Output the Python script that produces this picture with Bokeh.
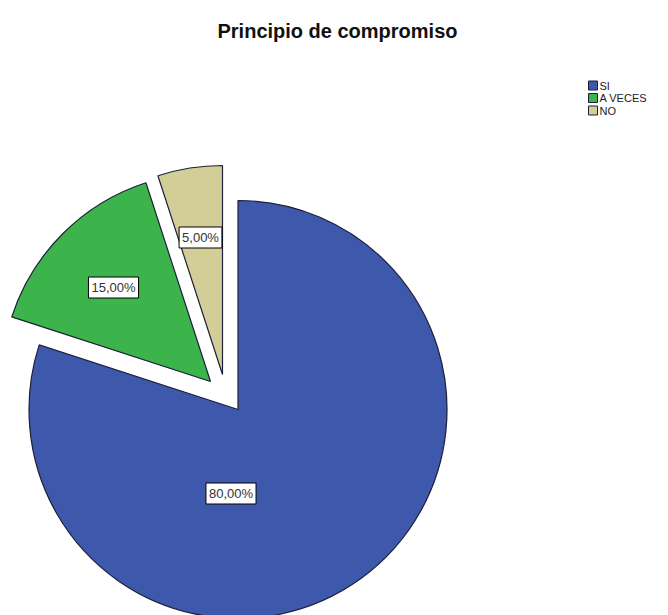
import numpy as np
from bokeh.plotting import figure
from bokeh.models import Range1d, Label, ColumnDataSource
from bokeh.embed import file_html
from bokeh.resources import INLINE

# ---- data ----
categories = ["SI", "A VECES", "NO"]
percentages = [80.0, 15.0, 5.0]
colors = ["#3E58AC", "#3CB44B", "#D3CE97"]
title_text = "Principio de compromiso"

# ---- layout (page pixel coordinates) ----
W, H = 668, 615
def Y(page_y):
    return H - page_y

center = (237.5, Y(409))
radius = 209
# explode offsets per slice (dx, dy up), and label offsets relative to slice apex
explode = [(0, 0), (-27.5, 28), (-15.5, 35)]
label_off = [(-7, -84), (-97, 94), (-22, 137)]

p = figure(width=W, height=H, x_range=Range1d(0, W), y_range=Range1d(0, H),
           output_backend="svg", toolbar_location=None, min_border=0)
p.axis.visible = False
p.grid.visible = False
p.outline_line_color = None
p.background_fill_color = "white"

frac = np.array(percentages) / sum(percentages)
cum = np.concatenate([[0], np.cumsum(frac)])
start = np.pi / 2 - cum[:-1] * 2 * np.pi
end = np.pi / 2 - cum[1:] * 2 * np.pi
xs = [center[0] + e[0] for e in explode]
ys = [center[1] + e[1] for e in explode]

src = ColumnDataSource(dict(x=xs, y=ys, start=start, end=end, color=colors, cat=categories))
p.wedge(x="x", y="y", radius=radius, radius_units="screen", start_angle="start", end_angle="end",
        direction="clock", fill_color="color", line_color="#1b1f3a", line_width=1.2, source=src)

for i, pct in enumerate(percentages):
    txt = f"{pct:.2f}%".replace(".", ",")
    p.add_layout(Label(x=xs[i] + label_off[i][0], y=ys[i] + label_off[i][1], text=txt,
                       text_align="center", text_baseline="middle", text_font_size="13px",
                       text_font="Liberation Sans", text_color="#333333",
                       background_fill_color="white", border_line_color="black",
                       border_line_width=1, padding=3))

# title
p.add_layout(Label(x=337, y=Y(30), text=title_text, text_align="center", text_baseline="middle",
                   text_font_size="20px", text_font_style="bold", text_font="Liberation Sans",
                   text_color="#111111"))

# legend
for i, cat in enumerate(categories):
    ly = Y(85 + i * 12.5)
    p.scatter(x=[592.5], y=[ly], marker="square", size=9, fill_color=colors[i], line_color="#1b1f3a", line_width=1)
    p.add_layout(Label(x=599, y=ly, text=cat, text_align="left", text_baseline="middle",
                       text_font_size="11px", text_font="Liberation Sans", text_color="#222222"))

open("out.html", "w").write(file_html(p, INLINE))
